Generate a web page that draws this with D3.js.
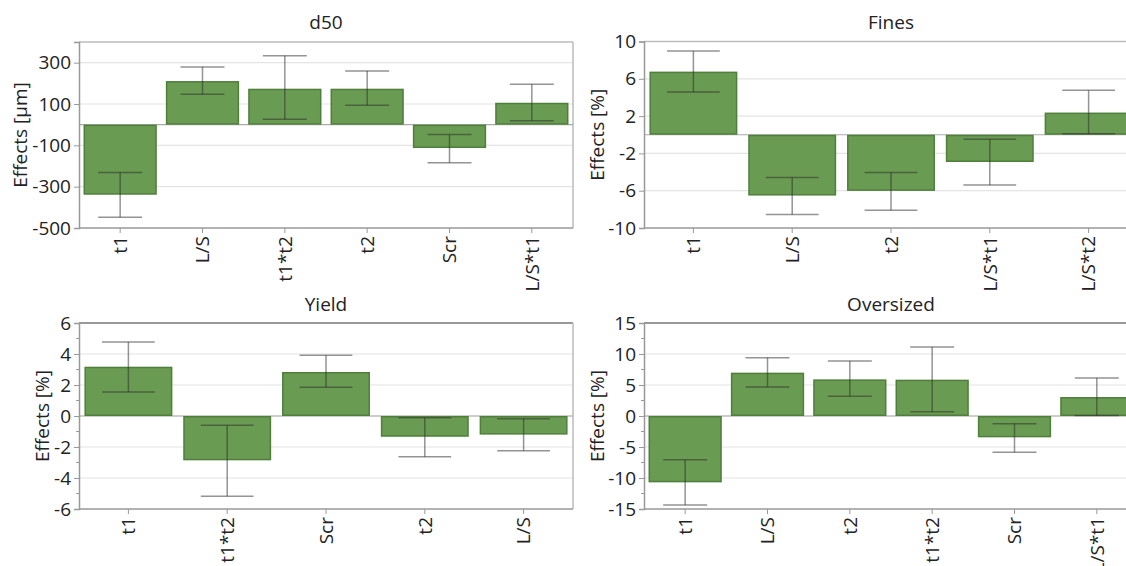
<!DOCTYPE html>
<html><head><meta charset="utf-8">
<script src="https://cdn.jsdelivr.net/npm/d3@7"></script>
<style>
html,body{margin:0;padding:0;background:#fff;overflow:hidden;}
text{font-family:"Open Sans","Noto Sans",sans-serif;fill:#222;}
</style></head>
<body><svg id="c" width="1126" height="566"></svg>
<script>
// ---- data ----
const d50Cats = ["t1","L/S","t1*t2","t2","Scr","L/S*t1"];
const d50Vals = [-339, 211, 174, 174, -113, 106];
const d50Lo   = [-448, 147, 26, 94, -184, 19];
const d50Hi   = [-232, 279, 334, 260, -48, 195];
const d50Ticks = [300, 100, -100, -300, -500];

const finesCats = ["t1","L/S","t2","L/S*t1","L/S*t2"];
const finesVals = [6.77, -6.52, -6.02, -2.92, 2.38];
const finesLo   = [4.58, -8.54, -8.1, -5.4, 0.11];
const finesHi   = [8.97, -4.58, -4.04, -0.47, 4.76];
const finesTicks = [10, 6, 2, -2, -6, -10];

const yieldCats = ["t1","t1*t2","Scr","t2","L/S"];
const yieldVals = [3.18, -2.86, 2.84, -1.34, -1.2];
const yieldLo   = [1.55, -5.18, 1.85, -2.63, -2.24];
const yieldHi   = [4.77, -0.6, 3.92, -0.11, -0.17];
const yieldTicks = [6, 4, 2, 0, -2, -4, -6];
const yieldMinor = [5, 3, 1, -1, -3, -5];

const overCats = ["t1","L/S","t2","t1*t2","Scr","L/S*t1"];
const overVals = [-10.7, 6.99, 5.91, 5.86, -3.44, 3.06];
const overLo   = [-14.35, 4.68, 3.17, 0.7, -5.86, 0.1];
const overHi   = [-7.04, 9.41, 8.87, 11.13, -1.24, 6.13];
const overTicks = [15, 10, 5, 0, -5, -10, -15];
const overMinor = [12.5, 7.5, 2.5, -2.5, -7.5, -12.5];

const svg = d3.select("#c");
const fmt = v => String(v);
const FS = "19px";

function panel(o){
  const g = svg.append("g");
  const x = d3.scaleBand().domain(o.cats).range([o.x0, o.x1]).paddingInner(0.11).paddingOuter(0.055);
  const y = d3.scaleLinear().domain(o.domain).range([o.y1, o.y0]);
  // grid
  g.selectAll(".grid").data(o.ticks.filter(t => t !== o.domain[0] && t !== o.domain[1]))
    .enter().append("line")
    .attr("x1", o.x0).attr("x2", o.x1).attr("y1", d => y(d)).attr("y2", d => y(d))
    .attr("stroke", "#e4e4e4").attr("stroke-width", 1.2);
  // frame
  g.append("line").attr("x1", o.x0).attr("x2", o.x1).attr("y1", o.y0).attr("y2", o.y0)
    .attr("stroke", o.topColor).attr("stroke-width", 1.5);
  g.append("line").attr("x1", o.x1).attr("x2", o.x1).attr("y1", o.y0).attr("y2", o.y1)
    .attr("stroke", "#bbb").attr("stroke-width", 1.5);
  // zero line
  g.append("line").attr("x1", o.x0).attr("x2", o.x1).attr("y1", y(0)).attr("y2", y(0))
    .attr("stroke", "#aaa").attr("stroke-width", 1.2);
  // bars
  g.selectAll(".bar").data(o.cats).enter().append("rect")
    .attr("x", d => x(d) + 0.75)
    .attr("width", x.bandwidth() - 1.5)
    .attr("y", (d,i) => Math.min(y(0), y(o.vals[i])) + 0.75)
    .attr("height", (d,i) => Math.abs(y(o.vals[i]) - y(0)) - 1.5)
    .attr("fill", "#6a9b52").attr("stroke", "#4f7f3b").attr("stroke-width", 1.5);
  // error bars
  const cw = x.bandwidth() * 0.3;
  o.cats.forEach((d,i) => {
    const cx = x(d) + x.bandwidth()/2;
    const eg = g.append("g").attr("stroke", "#2a2a2a").attr("stroke-opacity", 0.5).attr("stroke-width", 1.5);
    eg.append("line").attr("x1", cx).attr("x2", cx).attr("y1", y(o.lo[i])).attr("y2", y(o.hi[i]));
    eg.append("line").attr("x1", cx-cw).attr("x2", cx+cw).attr("y1", y(o.lo[i])).attr("y2", y(o.lo[i]));
    eg.append("line").attr("x1", cx-cw).attr("x2", cx+cw).attr("y1", y(o.hi[i])).attr("y2", y(o.hi[i]));
  });
  // y axis
  const ya = d3.axisLeft(y).tickValues(o.ticks).tickSize(5).tickPadding(3).tickFormat(fmt);
  const yg = g.append("g").attr("transform", `translate(${o.x0},0)`).call(ya);
  yg.select(".domain").attr("stroke", "#999").attr("stroke-width", 1.5);
  yg.selectAll(".tick line").attr("stroke", "#999");
  yg.selectAll(".tick text").style("font-size", FS).attr("fill", "#222");
  if (o.minor) {
    g.selectAll(".minor").data(o.minor).enter().append("line")
      .attr("x1", o.x0 - 3).attr("x2", o.x0).attr("y1", d => y(d)).attr("y2", d => y(d))
      .attr("stroke", "#999");
  }
  // x axis
  const xa = d3.axisBottom(x).tickSize(5).tickPadding(4);
  const xg = g.append("g").attr("transform", `translate(0,${o.y1})`).call(xa);
  xg.select(".domain").attr("stroke", "#999").attr("stroke-width", 1.5).attr("d", `M${o.x0},0H${o.x1}`);
  xg.selectAll(".tick line").attr("stroke", "#999");
  xg.selectAll(".tick text").style("font-size", FS).attr("fill", "#222")
    .attr("transform", "rotate(-90)").attr("text-anchor", "end")
    .attr("x", -8).attr("y", 0).attr("dy", "0.36em");
  // title
  g.append("text").attr("x", (o.x0 + o.x1)/2).attr("y", o.titleY).attr("text-anchor", "middle")
    .style("font-size", FS).text(o.title);
  // y label
  g.append("text").attr("transform", `translate(${o.labelX},${(o.y0+o.y1)/2}) rotate(-90)`)
    .attr("text-anchor", "middle").attr("dy", "0.35em").style("font-size", FS).text(o.ylabel);
}

panel({cats:d50Cats, vals:d50Vals, lo:d50Lo, hi:d50Hi, ticks:d50Ticks, domain:[-500,400],
  x0:79, x1:573, y0:42, y1:228, title:"d50", titleY:29, ylabel:"Effects [µm]", labelX:20, topColor:"#bbb"});
panel({cats:finesCats, vals:finesVals, lo:finesLo, hi:finesHi, ticks:finesTicks, domain:[-10,10],
  x0:644, x1:1138, y0:41.5, y1:228, title:"Fines", titleY:29, ylabel:"Effects [%]", labelX:597, topColor:"#bbb"});
panel({cats:yieldCats, vals:yieldVals, lo:yieldLo, hi:yieldHi, ticks:yieldTicks, minor:yieldMinor, domain:[-6,6],
  x0:79, x1:573, y0:323, y1:509, title:"Yield", titleY:311, ylabel:"Effects [%]", labelX:42, topColor:"#777"});
panel({cats:overCats, vals:overVals, lo:overLo, hi:overHi, ticks:overTicks, minor:overMinor, domain:[-15,15],
  x0:644, x1:1138, y0:323, y1:509, title:"Oversized", titleY:311, ylabel:"Effects [%]", labelX:597, topColor:"#777"});
</script></body></html>
